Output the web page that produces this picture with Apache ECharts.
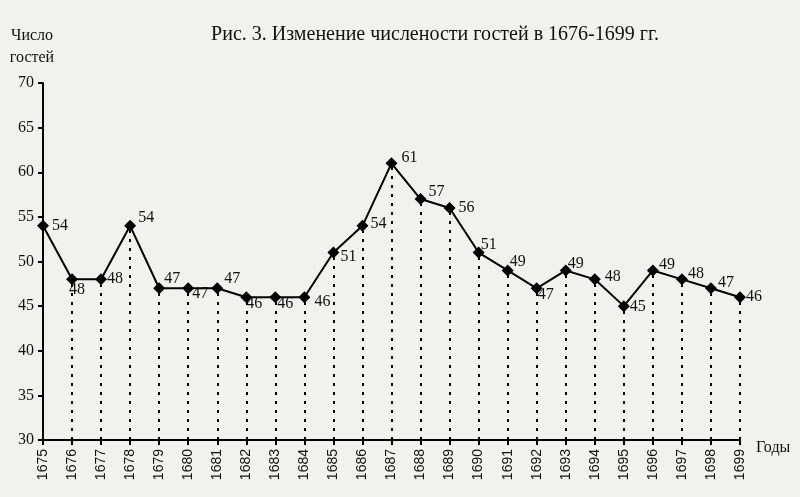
<!DOCTYPE html>
<html><head><meta charset="utf-8">
<script src="https://cdn.jsdelivr.net/npm/echarts@6/dist/echarts.min.js"></script>
<style>html,body{margin:0;padding:0;background:#f1f1f0}#c{width:800px;height:497px}</style>
</head><body><div id="c"></div>
<script>
const years = [1675,1676,1677,1678,1679,1680,1681,1682,1683,1684,1685,1686,1687,1688,1689,1690,1691,1692,1693,1694,1695,1696,1697,1698,1699];
const guests = [54,48,48,54,47,47,47,46,46,46,51,54,61,57,56,51,49,47,49,48,45,49,48,47,46];
const yTicks = [30,35,40,45,50,55,60,65,70];
// label nudges (style only), relative to 'right' placement
const labelNudge = [[-2,0],[-14,10],[-5,-1],[-3,-8],[-6,-9],[-7,6],[-4,-9],[-11,7],[-9,7],[-1,5],
  [-4,4],[-3,-2],[-1,-6],[-3,-7],[-2,0],[-9,-8],[-9,-9],[-10,7],[-9,-7],[-1,-3],
  [-5,1],[-5,-6],[-5,-6],[-4,-5],[-5,0]];

const serif = '"Liberation Serif","DejaVu Serif",serif';
const sans = '"Liberation Sans",Arial,sans-serif';

const points = years.map((y,i)=>({
  value:[y,guests[i]],
  label:{show:true, position:'right', offset:labelNudge[i]}
}));
const drops = years.slice(1).map((y,i)=>[{coord:[y,yTicks[0]]},{coord:[y,guests[i+1]]}]);

const chart = echarts.init(document.getElementById('c'));
chart.setOption({
  backgroundColor:'#f1f1f0',
  animation:false,
  title:{text:'Рис. 3. Изменение числености гостей в 1676-1699 гг.', left:430, textAlign:'center', top:20,
    textStyle:{fontFamily:serif, fontSize:20, fontWeight:'normal', color:'#111'}},
  grid:{left:43, right:60, top:83, bottom:57, containLabel:false},
  xAxis:{type:'value', min:years[0], max:years[years.length-1], interval:1,
    name:'Годы', nameLocation:'end', nameGap:16,
    nameTextStyle:{fontFamily:serif, fontSize:16, color:'#111', verticalAlign:'top'},
    axisLine:{lineStyle:{color:'#000', width:2}},
    axisTick:{show:true, length:5, lineStyle:{color:'#000', width:2}},
    splitLine:{show:false},
    axisLabel:{rotate:90, fontFamily:sans, fontSize:14, color:'#111', margin:9, formatter:v=>String(v)}
  },
  yAxis:{type:'value', min:yTicks[0], max:yTicks[yTicks.length-1], interval:5,
    name:'Число\nгостей', nameLocation:'end', nameGap:14,
    nameTextStyle:{fontFamily:serif, fontSize:16, color:'#111', align:'center', lineHeight:22, padding:[0,22,0,0]},
    axisLine:{show:true, lineStyle:{color:'#000', width:2}},
    axisTick:{show:true, length:5, lineStyle:{color:'#000', width:2}},
    splitLine:{show:false},
    axisLabel:{fontFamily:serif, fontSize:16, color:'#111', margin:9}
  },
  series:[{
    type:'line', data:points, symbol:'diamond', symbolSize:12,
    itemStyle:{color:'#000'}, lineStyle:{color:'#000', width:2},
    label:{fontFamily:serif, fontSize:16, color:'#111'},
    markLine:{silent:true, symbol:'none', label:{show:false},
      lineStyle:{color:'#000', type:[3,6], width:2},
      data:drops}
  }]
});
</script></body></html>
